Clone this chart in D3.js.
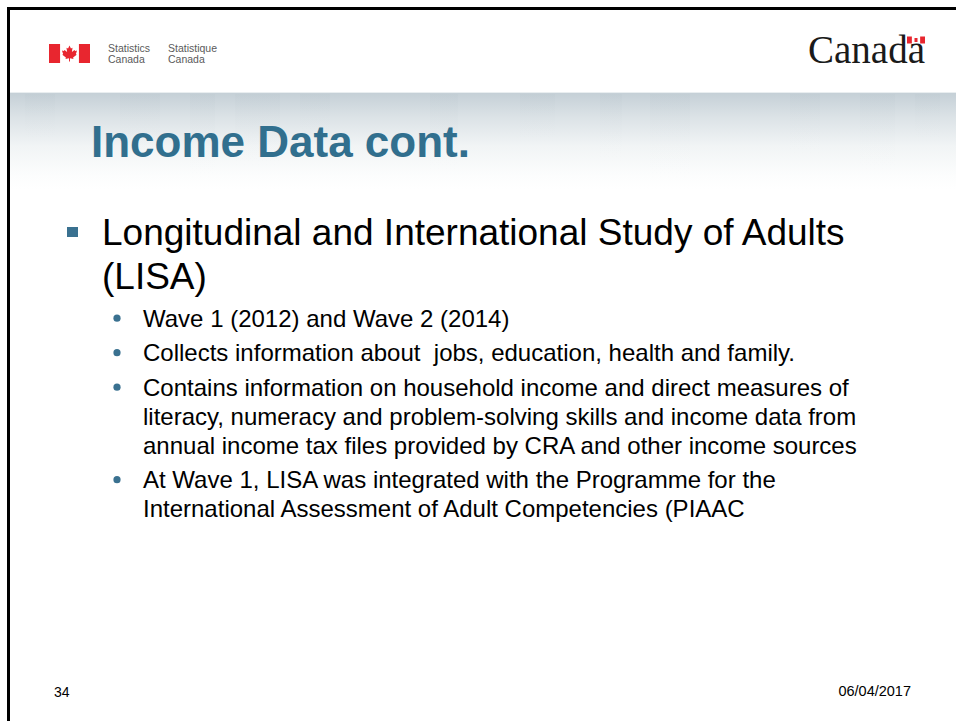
<!DOCTYPE html>
<html>
<head>
<meta charset="utf-8">
<script src="https://cdn.jsdelivr.net/npm/d3@7"></script>
<style>
  html, body { margin: 0; padding: 0; background: #fff; }
  svg { display: block; }
  text { white-space: pre; }
</style>
</head>
<body>
<svg id="slide" width="956" height="721"></svg>
<script>
// ---- content ----
const slideTitle = "Income Data cont.";
const headerLeft = ["Statistics", "Canada"];
const headerRight = ["Statistique", "Canada"];
const wordmark = "Canada";
const mainBullet = ["Longitudinal and International Study of Adults", "(LISA)"];
const subBullets = [
  ["Wave 1 (2012) and Wave 2 (2014)"],
  ["Collects information about  jobs, education, health and family."],
  ["Contains information on household income and direct measures of",
   "literacy, numeracy and problem-solving skills and income data from",
   "annual income tax files provided by CRA and other income sources"],
  ["At Wave 1, LISA was integrated with the Programme for the",
   "International Assessment of Adult Competencies (PIAAC"]
];
const slideNumber = "34";
const slideDate = "06/04/2017";

// ---- drawing ----
const W = 956, H = 721;
const svg = d3.select("#slide");
const font = "'Liberation Sans', Arial, Helvetica, sans-serif";
const accent = "#316f8e";
const red = "#e8262f";

svg.append("rect").attr("width", W).attr("height", H).attr("fill", "#fff");

// title band gradient
const defs = svg.append("defs");
const g1 = defs.append("linearGradient").attr("id", "band").attr("x1", 0).attr("y1", 0).attr("x2", 0).attr("y2", 1);
[[0, "#c4cfd6"], [0.25, "#dbe2e6"], [0.55, "#f1f4f5"], [0.85, "#fcfdfd"], [1, "#ffffff"]]
  .forEach(([o, c]) => g1.append("stop").attr("offset", o).attr("stop-color", c));
const fade = defs.append("linearGradient").attr("id", "fade").attr("x1", 0).attr("y1", 0).attr("x2", 0).attr("y2", 1);
[[0, "#aab8c0", 0.3], [1, "#ffffff", 0]]
  .forEach(([o, c, a]) => fade.append("stop").attr("offset", o).attr("stop-color", c).attr("stop-opacity", a));

const bandTop = 92, bandH = 98;
svg.append("rect").attr("x", 10).attr("y", bandTop).attr("width", W - 10).attr("height", bandH).attr("fill", "url(#band)");
svg.append("line").attr("x1", 10).attr("x2", W).attr("y1", bandTop + 0.5).attr("y2", bandTop + 0.5)
  .attr("stroke", "#e9eef0").attr("stroke-width", 1);

// faint building-like columns in the band
const cols = [[25, 30, 60], [120, 40, 70], [190, 25, 90], [235, 45, 80], [300, 30, 55], [430, 28, 85],
  [520, 35, 60], [600, 22, 75], [650, 40, 90], [790, 30, 70], [860, 35, 85], [915, 25, 60]];
svg.append("g").selectAll("rect").data(cols).join("rect")
  .attr("x", d => d[0]).attr("y", bandTop + 2).attr("width", d => d[1]).attr("height", d => d[2])
  .attr("fill", "url(#fade)").attr("opacity", 0.35);

// frame lines (top and left)
svg.append("rect").attr("x", 7).attr("y", 7).attr("width", W - 7).attr("height", 3).attr("fill", "#000");
svg.append("rect").attr("x", 7).attr("y", 7).attr("width", 3).attr("height", H - 7).attr("fill", "#000");

// ---- StatCan signature flag ----
function flag(g, x, y, w, h) {
  const bw = w * 0.27;
  g.append("rect").attr("x", x).attr("y", y).attr("width", bw).attr("height", h).attr("fill", red);
  g.append("rect").attr("x", x + w - bw).attr("y", y).attr("width", bw).attr("height", h).attr("fill", red);
  const cx = x + w / 2, cy = y + h / 2, s = h * 0.42;
  const leaf = [[0, -1], [0.18, -0.62], [0.38, -0.72], [0.3, -0.2], [0.62, -0.45], [0.72, -0.3],
    [0.95, -0.38], [0.8, 0.05], [0.9, 0.15], [0.45, 0.5], [0.5, 0.68], [0.06, 0.6], [0.06, 1.0],
    [-0.06, 1.0], [-0.06, 0.6], [-0.5, 0.68], [-0.45, 0.5], [-0.9, 0.15], [-0.8, 0.05], [-0.95, -0.38],
    [-0.72, -0.3], [-0.62, -0.45], [-0.3, -0.2], [-0.38, -0.72], [-0.18, -0.62]];
  g.append("path").attr("d", d3.line()(leaf.map(p => [cx + p[0] * s, cy + p[1] * s])) + "Z").attr("fill", red);
}
const hdr = svg.append("g");
flag(hdr, 49, 44, 41, 19);

hdr.append("g").selectAll("text").data(headerLeft).join("text")
  .attr("x", 108).attr("y", (d, i) => 52 + i * 11)
  .attr("font-family", font).attr("font-size", 10.5).attr("fill", "#5a5a5a").text(d => d);
hdr.append("g").selectAll("text").data(headerRight).join("text")
  .attr("x", 168).attr("y", (d, i) => 52 + i * 11)
  .attr("font-family", font).attr("font-size", 10.5).attr("fill", "#5a5a5a").text(d => d);

// Canada wordmark
hdr.append("text").attr("x", 808).attr("y", 63)
  .attr("font-family", "'Liberation Serif', 'Times New Roman', serif").attr("font-size", 39)
  .attr("fill", "#1a1a1a").text(wordmark);
// small flag above the final "a"
const fx = 907, fy = 36.5, fw = 18, fh = 7;
hdr.append("rect").attr("x", fx).attr("y", fy).attr("width", fw * 0.27).attr("height", fh).attr("fill", red);
hdr.append("rect").attr("x", fx + fw * 0.73).attr("y", fy).attr("width", fw * 0.27).attr("height", fh).attr("fill", red);
hdr.append("rect").attr("x", fx + fw / 2 - 1.5).attr("y", fy + 1.5).attr("width", 3).attr("height", 4).attr("fill", red);

// ---- title ----
svg.append("text").attr("x", 91).attr("y", 157)
  .attr("font-family", font).attr("font-size", 44).attr("font-weight", "bold")
  .attr("fill", accent).text(slideTitle);

// ---- main bullet ----
svg.append("rect").attr("x", 67).attr("y", 227).attr("width", 11).attr("height", 10).attr("fill", "#3a7190");
svg.append("g").selectAll("text").data(mainBullet).join("text")
  .attr("x", 102).attr("y", (d, i) => 245 + i * 44)
  .attr("font-family", font).attr("font-size", 37).attr("fill", "#000").text(d => d);

// ---- sub bullets ----
const lineH = 29, paraGap = 5.5;
let yCur = 326.7;
const subG = svg.append("g");
subBullets.forEach((para, pi) => {
  if (pi > 0) yCur += paraGap;
  subG.append("circle").attr("cx", 117).attr("cy", yCur - 8.5).attr("r", 3.6).attr("fill", "#3a7190");
  para.forEach((line, li) => {
    subG.append("text").attr("x", 143).attr("y", yCur)
      .attr("font-family", font).attr("font-size", 24).attr("fill", "#000").text(line);
    if (li < para.length - 1) yCur += lineH;
  });
  yCur += lineH;
});

// ---- footer ----
svg.append("text").attr("x", 54).attr("y", 697)
  .attr("font-family", font).attr("font-size", 14).attr("fill", "#000").text(slideNumber);
svg.append("text").attr("x", 911).attr("y", 696).attr("text-anchor", "end")
  .attr("font-family", font).attr("font-size", 14.5).attr("fill", "#000").text(slideDate);
</script>
</body>
</html>
